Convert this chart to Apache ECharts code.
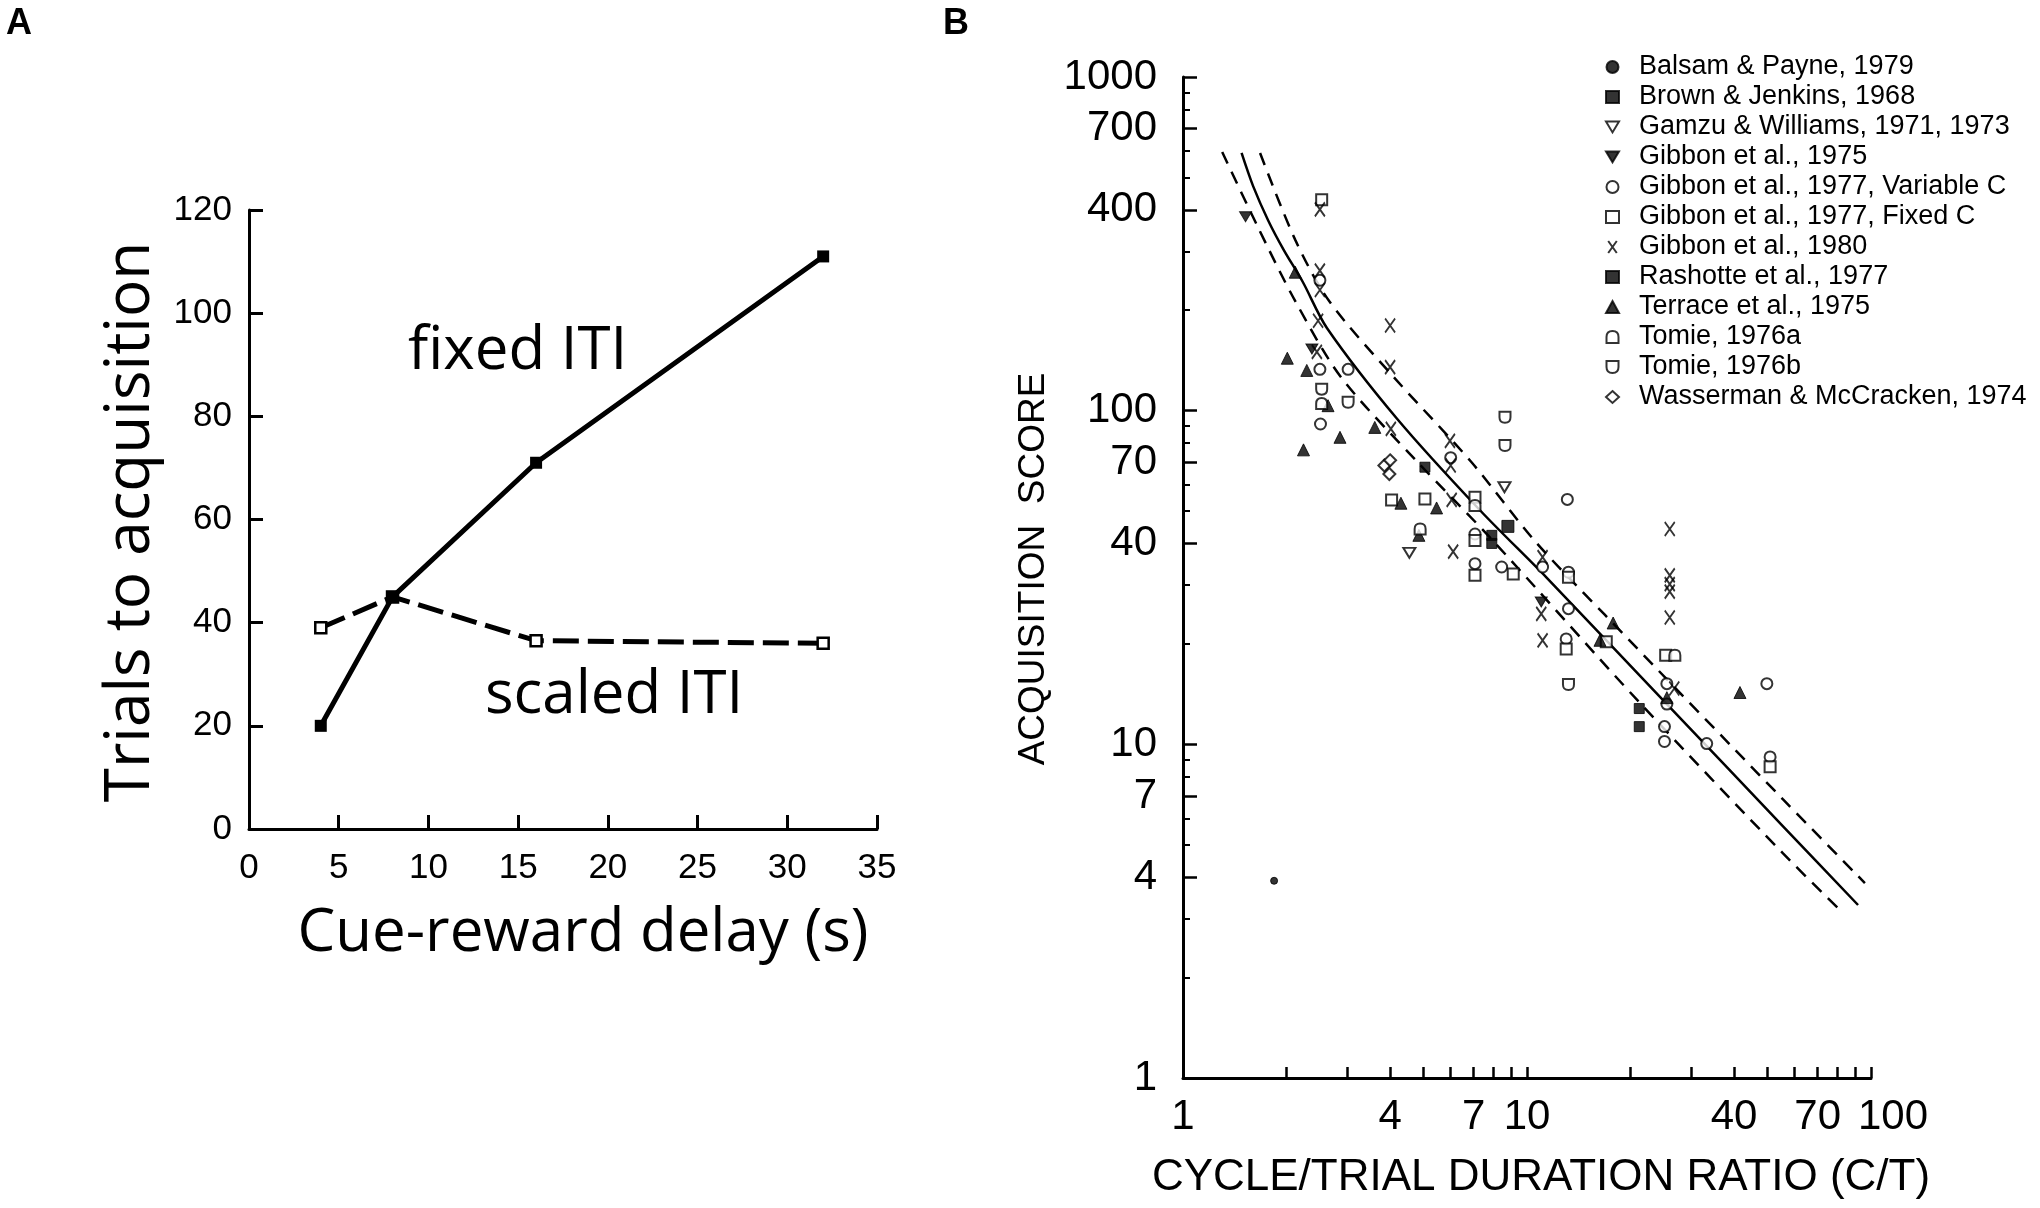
<!DOCTYPE html>
<html>
<head>
<meta charset="utf-8">
<title>Trials to acquisition / acquisition score</title>
<script src="https://cdn.jsdelivr.net/npm/echarts@6/dist/echarts.min.js"></script>
<style>
  html, body { margin: 0; padding: 0; background: #fff; }
  #chart { width: 2040px; height: 1208px; }
</style>
</head>
<body>
<div id="chart"></div>
<script>
// ---------- panel A ----------
const delays = [4, 8, 16, 32];
const fixedITI = [20, 45, 71, 111];
const scaledITI = [39, 45, 36.5, 36];

// ---------- panel B: axis ticks ----------
const xLabelsB = [1, 4, 7, 10, 40, 70, 100];
const xTicksB = [2, 3, 4, 5, 6, 7, 8, 9, 10, 20, 30, 40, 50, 60, 70, 80, 90, 100];
const yLabelsB = [1, 4, 7, 10, 40, 70, 100, 400, 700, 1000];
const yMinorB = [2, 3, 5, 6, 8, 9, 20, 30, 50, 60, 80, 90, 200, 300, 500, 600, 800, 900];

// ---------- panel B: fitted line and bounds [C/T, score] ----------
const fitLine = [[1.48, 592], [1.6, 470], [1.77, 371], [1.96, 304], [2.23, 243], [2.62, 177], [4.19, 94.6], [7.3, 50.3], [11.4, 31.6], [25.5, 13.2], [55.5, 5.68], [91.7, 3.3]];
const upperBand = [[1.675, 592], [2.12, 325], [2.66, 213], [4.1, 126], [6.87, 70.4], [10.6, 40.4], [16.8, 24.5], [55.5, 6.84], [96, 3.84]];
const lowerBand = [[1.3, 596], [1.64, 360], [2.12, 213], [2.88, 126], [4.79, 70.4], [7.8, 41.7], [21.3, 13.3], [55.5, 4.71], [83, 3.12]];

// ---------- panel B: studies [C/T, score] ----------
const balsamPayne = [[1.84, 3.9]];
const brownJenkins = [[8.8, 45]];
const gamzuWilliams = [[4.55, 37.5], [8.6, 59]];
const gibbon1975 = [[1.52, 381], [2.37, 153], [11.0, 26.7]];
const gibbon1977Var = [[2.5, 246], [2.5, 133], [3.02, 133], [2.51, 91.2], [6.0, 72.3], [7.06, 42.7], [7.06, 34.8], [8.44, 34], [11.1, 34], [13.1, 54.2], [13.2, 32.8], [13.2, 25.5], [13.0, 20.7], [25.5, 15.2], [25.5, 13.2], [25.1, 11.3], [25.1, 10.2], [33.3, 10.05], [49.8, 15.2], [50.9, 9.17]];
const gibbon1977Fixed = [[2.53, 429], [4.04, 54], [5.05, 54.4], [7.06, 55], [7.06, 40.8], [7.06, 32.1], [9.12, 32.4], [13.2, 31.7], [13.0, 19.3], [17.0, 20.3], [25.3, 18.5], [50.9, 8.57]];
const gibbon1980 = [[2.5, 401], [2.5, 263], [2.5, 230], [2.47, 186], [2.45, 150], [4.0, 180], [4.0, 135], [4.02, 88.2], [5.97, 81.2], [6.0, 68.5], [6.04, 54], [6.1, 37.8], [11.1, 36.4], [11.0, 24.6], [11.1, 20.5], [26.0, 44.2], [26.0, 32.1], [26.0, 30.2], [26.0, 28.7], [26.0, 24.0], [26.8, 14.7]];
const rashotte = [[5.05, 67.7], [7.9, 42.3], [7.9, 40], [21.2, 12.8], [21.2, 11.3]];
const terrace = [[2.12, 260], [2.01, 143.6], [2.29, 132], [2.64, 103.5], [2.24, 76.3], [2.86, 83.2], [3.61, 89.1], [4.3, 52.8], [5.46, 51.1], [4.85, 42.3], [17.8, 23.1], [16.3, 20.5], [41.6, 14.3], [25.5, 13.8]];
const tomieA = [[2.53, 105], [4.89, 44.2], [7.06, 52], [26.9, 18.5]];
const tomieB = [[2.53, 116], [3.02, 106], [8.63, 95.5], [8.63, 78.6], [13.2, 15.1]];
const wasserman = [[3.85, 68.5], [4.0, 71], [3.98, 64.6]];

const chart = echarts.init(document.getElementById('chart'));

// log-log panel is drawn on value axes in log10 space
const toLog = pts => pts.map(p => [Math.log10(p[0]), Math.log10(p[1])]);
const logLabel = v => String(Math.round(Math.pow(10, v)));

const BLACK = '#000';
const labelFontB = { fontFamily: 'Liberation Sans', fontSize: 42, color: BLACK };

// symbols drawn as paths (so the legend shows them the same way)
const xMark = 'path://M0,0L10,14M10,0L0,14';
const domeUp = 'path://M0,10L0,5Q0,0 5,0Q10,0 10,5L10,10Z';
const domeDown = 'path://M0,0L10,0L10,5Q10,10 5,10Q0,10 0,5Z';
const triDown = 'path://M0,0L12,0L6,10Z';

function study(name, pts, symbol, size, filled) {
    return {
        name: name,
        type: 'scatter',
        xAxisIndex: 1,
        yAxisIndex: 1,
        data: toLog(pts),
        symbol: symbol,
        symbolSize: size,
        z: 4,
        itemStyle: filled
            ? { color: BLACK, borderColor: BLACK, borderWidth: 1 }
            : { color: '#fff', borderColor: BLACK, borderWidth: 2 },
    };
}

const bandLine = (name, pts, dashed) => ({
    name: name,
    type: 'line',
    xAxisIndex: 1,
    yAxisIndex: 1,
    data: toLog(pts),
    showSymbol: false,
    smooth: 0.3,
    z: 2,
    lineStyle: { color: BLACK, width: 2.5, type: dashed ? [13, 9] : 'solid' },
});

const studyNames = [
    'Balsam & Payne, 1979',
    'Brown & Jenkins, 1968',
    'Gamzu & Williams, 1971, 1973',
    'Gibbon et al., 1975',
    'Gibbon et al., 1977, Variable C',
    'Gibbon et al., 1977, Fixed C',
    'Gibbon et al., 1980',
    'Rashotte et al., 1977',
    'Terrace et al., 1975',
    'Tomie, 1976a',
    'Tomie, 1976b',
    'Wasserman & McCracken, 1974',
];

const option = {
    animation: false,
    backgroundColor: '#fff',
    grid: [
        { left: 249, top: 210, width: 628, height: 619 },
        { left: 1183, top: 77, width: 688, height: 1001 },
    ],
    xAxis: [
        {
            gridIndex: 0,
            type: 'value',
            min: 0,
            max: 35,
            interval: 5,
            axisLine: { lineStyle: { color: BLACK, width: 3 } },
            axisTick: { inside: true, length: 14, lineStyle: { color: BLACK, width: 3 } },
            axisLabel: { color: BLACK, fontFamily: 'Liberation Sans', fontSize: 35, margin: 22 },
            splitLine: { show: false },
        },
        {
            gridIndex: 1,
            type: 'value',
            min: 0,
            max: 2,
            position: 'bottom',
            axisLine: { onZero: false, lineStyle: { color: BLACK, width: 3 } },
            axisTick: {
                inside: true,
                length: 11,
                customValues: xTicksB.map(v => Math.log10(v)),
                lineStyle: { color: BLACK, width: 2.5 },
            },
            axisLabel: {
                customValues: xLabelsB.map(v => Math.log10(v)),
                margin: 18,
                ...labelFontB,
                formatter: v => {
                    const s = logLabel(v);
                    // the "100" label sits a little right of its tick
                    return s === '100' ? '{r|' + s + '}' : s;
                },
                rich: { r: { ...labelFontB, padding: [0, 0, 0, 44] } },
            },
            splitLine: { show: false },
        },
    ],
    yAxis: [
        {
            gridIndex: 0,
            type: 'value',
            min: 0,
            max: 120,
            interval: 20,
            axisLine: { show: true, lineStyle: { color: BLACK, width: 3 } },
            axisTick: { show: true, inside: true, length: 14, lineStyle: { color: BLACK, width: 3 } },
            axisLabel: { color: BLACK, fontFamily: 'Liberation Sans', fontSize: 35, margin: 17 },
            splitLine: { show: false },
        },
        {
            gridIndex: 1,
            type: 'value',
            min: 0,
            max: 3,
            position: 'left',
            axisLine: { show: true, onZero: false, lineStyle: { color: BLACK, width: 3 } },
            axisTick: {
                show: true,
                inside: true,
                length: 14,
                customValues: yLabelsB.map(v => Math.log10(v)),
                lineStyle: { color: BLACK, width: 2.5 },
            },
            axisLabel: {
                customValues: yLabelsB.map(v => Math.log10(v)),
                margin: 26,
                ...labelFontB,
                formatter: logLabel,
            },
            splitLine: { show: false },
        },
        {
            // minor log ticks on the same left axis
            gridIndex: 1,
            type: 'value',
            min: 0,
            max: 3,
            position: 'left',
            axisLine: { show: false },
            axisTick: {
                show: true,
                inside: true,
                length: 7,
                customValues: yMinorB.map(v => Math.log10(v)),
                lineStyle: { color: BLACK, width: 2 },
            },
            axisLabel: { show: false },
            splitLine: { show: false },
        },
    ],
    legend: {
        data: studyNames,
        orient: 'vertical',
        left: 1600,
        top: 47,
        itemWidth: 13,
        itemHeight: 12,
        itemGap: 0,
        selectedMode: false,
        textStyle: {
            fontFamily: 'Liberation Sans',
            fontSize: 27,
            lineHeight: 30,
            color: BLACK,
            padding: [0, 0, 0, 15],
        },
    },
    graphic: [
        { type: 'text', x: 19, y: 24, style: { text: 'A', font: 'bold 36px "Liberation Sans"', fill: BLACK, align: 'center', verticalAlign: 'middle', textAlign: 'center', textVerticalAlign: 'middle' } },
        { type: 'text', x: 956, y: 24, style: { text: 'B', font: 'bold 36px "Liberation Sans"', fill: BLACK, align: 'center', verticalAlign: 'middle', textAlign: 'center', textVerticalAlign: 'middle' } },
        { type: 'text', x: 131, y: 522, rotation: Math.PI / 2, style: { text: 'Trials to acquisition', font: '62px "Open Sans"', fill: BLACK, align: 'center', verticalAlign: 'middle', textAlign: 'center', textVerticalAlign: 'middle' } },
        { type: 'text', x: 583, y: 934, style: { text: 'Cue-reward delay (s)', font: '60px "Open Sans"', fill: BLACK, align: 'center', verticalAlign: 'middle', textAlign: 'center', textVerticalAlign: 'middle' } },
        { type: 'text', x: 408, y: 352, style: { text: 'fixed ITI', font: '60px "Open Sans"', fill: BLACK, align: 'left', verticalAlign: 'middle', textAlign: 'left', textVerticalAlign: 'middle' } },
        { type: 'text', x: 485, y: 696, style: { text: 'scaled ITI', font: '60px "Open Sans"', fill: BLACK, align: 'left', verticalAlign: 'middle', textAlign: 'left', textVerticalAlign: 'middle' } },
        { type: 'text', x: 1034, y: 569, rotation: Math.PI / 2, style: { text: 'ACQUISITION  SCORE', font: '37px "Liberation Sans"', fill: BLACK, align: 'center', verticalAlign: 'middle', textAlign: 'center', textVerticalAlign: 'middle' } },
        { type: 'text', x: 1541, y: 1178, style: { text: 'CYCLE/TRIAL DURATION RATIO (C/T)', font: '44px "Liberation Sans"', fill: BLACK, align: 'center', verticalAlign: 'middle', textAlign: 'center', textVerticalAlign: 'middle' } },
    ],
    series: [
        {
            name: 'scaled ITI',
            type: 'line',
            xAxisIndex: 0,
            yAxisIndex: 0,
            data: delays.map((d, i) => [d, scaledITI[i]]),
            symbol: 'rect',
            symbolSize: 11,
            lineStyle: { color: BLACK, width: 5, type: [26, 9] },
            itemStyle: { color: '#fff', borderColor: BLACK, borderWidth: 2.5 },
        },
        {
            name: 'fixed ITI',
            type: 'line',
            xAxisIndex: 0,
            yAxisIndex: 0,
            data: delays.map((d, i) => [d, fixedITI[i]]),
            symbol: 'rect',
            symbolSize: 12,
            lineStyle: { color: BLACK, width: 5 },
            itemStyle: { color: BLACK },
        },
        bandLine('fit', fitLine, false),
        bandLine('upper', upperBand, true),
        bandLine('lower', lowerBand, true),
        study(studyNames[0], balsamPayne, 'circle', 7, true),
        study(studyNames[1], brownJenkins, 'rect', 12, true),
        study(studyNames[2], gamzuWilliams, triDown, [12, 10], false),
        study(studyNames[3], gibbon1975, triDown, [12, 10], true),
        study(studyNames[4], gibbon1977Var, 'circle', 11, false),
        study(studyNames[5], gibbon1977Fixed, 'rect', 11, false),
        study(studyNames[6], gibbon1980, xMark, [10, 14], false),
        study(studyNames[7], rashotte, 'rect', 10, true),
        study(studyNames[8], terrace, 'triangle', 12, true),
        study(studyNames[9], tomieA, domeUp, 11, false),
        study(studyNames[10], tomieB, domeDown, 11, false),
        study(studyNames[11], wasserman, 'diamond', 12, false),
    ],
};

chart.setOption(option);
</script>
</body>
</html>
